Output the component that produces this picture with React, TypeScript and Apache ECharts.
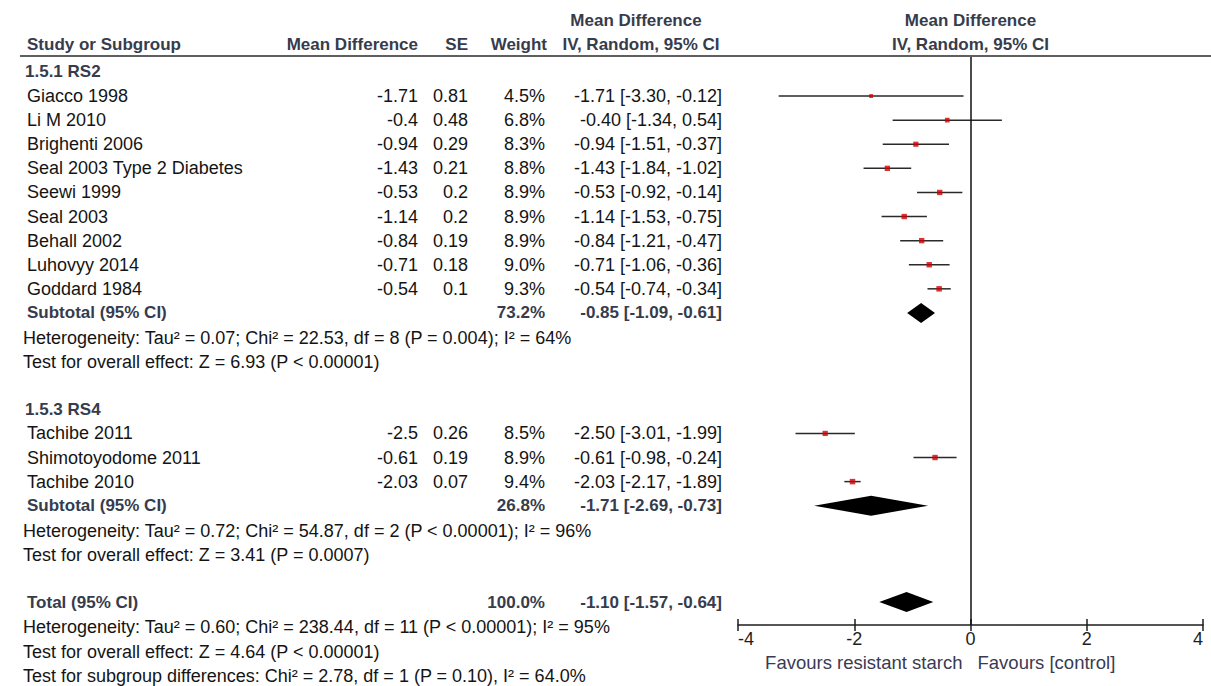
import React, { useEffect, useRef } from "react";
import * as echarts from "echarts";

// 1.5.1 RS2 studies
const rs2Studies = ["Giacco 1998", "Li M 2010", "Brighenti 2006", "Seal 2003 Type 2 Diabetes", "Seewi 1999", "Seal 2003", "Behall 2002", "Luhovyy 2014", "Goddard 1984"];
const rs2Md = [-1.71, -0.4, -0.94, -1.43, -0.53, -1.14, -0.84, -0.71, -0.54];
const rs2Se = [0.81, 0.48, 0.29, 0.21, 0.2, 0.2, 0.19, 0.18, 0.1];
const rs2Weight = [4.5, 6.8, 8.3, 8.8, 8.9, 8.9, 8.9, 9.0, 9.3];
const rs2Lower = [-3.3, -1.34, -1.51, -1.84, -0.92, -1.53, -1.21, -1.06, -0.74];
const rs2Upper = [-0.12, 0.54, -0.37, -1.02, -0.14, -0.75, -0.47, -0.36, -0.34];
const rs2Pooled = { md: -0.85, lower: -1.09, upper: -0.61, weight: 73.2 };
const rs2Heterogeneity = "Heterogeneity: Tau² = 0.07; Chi² = 22.53, df = 8 (P = 0.004); I² = 64%";
const rs2Effect = "Test for overall effect: Z = 6.93 (P < 0.00001)";

// 1.5.3 RS4 studies
const rs4Studies = ["Tachibe 2011", "Shimotoyodome 2011", "Tachibe 2010"];
const rs4Md = [-2.5, -0.61, -2.03];
const rs4Se = [0.26, 0.19, 0.07];
const rs4Weight = [8.5, 8.9, 9.4];
const rs4Lower = [-3.01, -0.98, -2.17];
const rs4Upper = [-1.99, -0.24, -1.89];
const rs4Pooled = { md: -1.71, lower: -2.69, upper: -0.73, weight: 26.8 };
const rs4Heterogeneity = "Heterogeneity: Tau² = 0.72; Chi² = 54.87, df = 2 (P < 0.00001); I² = 96%";
const rs4Effect = "Test for overall effect: Z = 3.41 (P = 0.0007)";

// Overall
const totalPooled = { md: -1.1, lower: -1.57, upper: -0.64, weight: 100.0 };
const totalHeterogeneity = "Heterogeneity: Tau² = 0.60; Chi² = 238.44, df = 11 (P < 0.00001); I² = 95%";
const totalEffect = "Test for overall effect: Z = 4.64 (P < 0.00001)";
const subgroupTest = "Test for subgroup differences: Chi² = 2.78, df = 1 (P = 0.10), I² = 64.0%";

const axisTicks = [-4, -2, 0, 2, 4];
const favoursLeft = "Favours resistant starch";
const favoursRight = "Favours [control]";

const FONT = '"Liberation Sans", Arial, sans-serif';
const TEXT = "#141414";
const BOLD = "#363c4c";

const fmt = (v: number) => v.toFixed(2);
const ciText = (md: number, lo: number, hi: number) => `${fmt(md)} [${fmt(lo)}, ${fmt(hi)}]`;

export default function App() {
  const ref = useRef<HTMLDivElement>(null);

  useEffect(() => {
    if (!ref.current) return;
    const chart = echarts.init(ref.current, undefined, { renderer: "svg" });

    // row layout (in row units on the hidden y axis)
    const rs2Start = 0;
    const rs2SubRow = rs2Start + rs2Studies.length;
    const rs4Section = rs2SubRow + 4;
    const rs4Start = rs4Section + 1;
    const rs4SubRow = rs4Start + rs4Studies.length;
    const totalRow = rs4SubRow + 4;

    const studyRows: [number, number, number, number, number][] = [];
    rs2Studies.forEach((_, i) => studyRows.push([rs2Lower[i], rs2Upper[i], rs2Start + i, rs2Md[i], rs2Weight[i]]));
    rs4Studies.forEach((_, i) => studyRows.push([rs4Lower[i], rs4Upper[i], rs4Start + i, rs4Md[i], rs4Weight[i]]));

    const diamonds = [
      [rs2Pooled.lower, rs2Pooled.md, rs2Pooled.upper, rs2SubRow],
      [rs4Pooled.lower, rs4Pooled.md, rs4Pooled.upper, rs4SubRow],
      [totalPooled.lower, totalPooled.md, totalPooled.upper, totalRow],
    ];

    const baseAxis = {
      type: "value" as const,
      min: -4,
      max: 4,
      interval: 2,
      position: "bottom" as const,
      splitLine: { show: false },
    };

    chart.setOption({
      animation: false,
      backgroundColor: "#ffffff",
      grid: { left: 738, right: 8, top: 57, bottom: 61, containLabel: false },
      xAxis: [
        {
          ...baseAxis,
          axisLine: { show: true, onZero: false, lineStyle: { color: "#1e1e1e", width: 1.5 } },
          axisTick: { show: true, length: 6, lineStyle: { color: "#1e1e1e", width: 1.5 } },
          axisLabel: {
            show: true,
            fontSize: 18,
            fontFamily: FONT,
            color: "#1e1e1e",
            margin: 5,
            alignMinLabel: "left",
            alignMaxLabel: "right",
            formatter: (v: number) => (axisTicks.includes(v) ? String(v) : ""),
          },
        },
        {
          ...baseAxis,
          axisLine: { show: false, onZero: false },
          axisTick: { show: true, inside: true, length: 6, lineStyle: { color: "#1e1e1e", width: 1.5 } },
          axisLabel: { show: false },
        },
      ],
      yAxis: { type: "value", min: -1.62, max: 21.95, inverse: true, show: false },
      series: [
        {
          type: "custom",
          name: "ci",
          xAxisIndex: 0,
          data: studyRows,
          renderItem: (_p: any, api: any) => {
            const a = api.coord([api.value(0), api.value(2)]);
            const b = api.coord([api.value(1), api.value(2)]);
            return {
              type: "line",
              shape: { x1: a[0], y1: a[1], x2: b[0], y2: b[1] },
              style: { stroke: "#2a2a2a", lineWidth: 1.5 },
            };
          },
        },
        {
          type: "scatter",
          name: "estimate",
          symbol: "rect",
          data: studyRows.map((r) => [r[3], r[2], r[4]]),
          symbolSize: (v: number[]) => 1.8 * Math.sqrt(v[2]),
          itemStyle: { color: "#d00000" },
          z: 5,
          markLine: {
            silent: true,
            symbol: ["none", "none"],
            label: { show: false },
            lineStyle: { color: "#111111", width: 1.5, type: "solid" },
            data: [{ xAxis: 0 }],
          },
        },
        {
          type: "custom",
          name: "pooled",
          data: diamonds,
          renderItem: (_p: any, api: any) => {
            const row = api.value(3);
            const l = api.coord([api.value(0), row]);
            const c = api.coord([api.value(1), row]);
            const r = api.coord([api.value(2), row]);
            const h = 10;
            return {
              type: "polygon",
              shape: { points: [[l[0], l[1]], [c[0], c[1] - h], [r[0], r[1]], [c[0], c[1] + h]] },
              style: { fill: "#000000" },
            };
          },
        },
      ],
    });

    const py = (row: number) => chart.convertToPixel({ gridIndex: 0 }, [0, row])[1];
    const px = (x: number) => chart.convertToPixel({ gridIndex: 0 }, [x, 0])[0];

    const g: any[] = [];
    const txt = (x: number, row: number, text: string, align = "left", bold = false, color = TEXT, size = 18) => {
      g.push({
        type: "text",
        x,
        y: py(row),
        style: {
          text,
          fontSize: bold ? 17 : size,
          fontWeight: bold ? "bold" : "normal",
          fontFamily: FONT,
          fill: bold ? BOLD : color,
          textAlign: align,
          textVerticalAlign: "middle",
        },
      });
    };

    // headers
    const h1 = -3.15;
    const h2 = -2.15;
    txt(27, h2, "Study or Subgroup", "left", true);
    txt(418, h2, "Mean Difference", "right", true);
    txt(468, h2, "SE", "right", true);
    txt(547, h2, "Weight", "right", true);
    txt(636, h1, "Mean Difference", "center", true);
    txt(641, h2, "IV, Random, 95% CI", "center", true);
    txt(px(0), h1, "Mean Difference", "center", true);
    txt(px(0), h2, "IV, Random, 95% CI", "center", true);
    g.push({
      type: "line",
      shape: { x1: 20, y1: 56, x2: 1211, y2: 56 },
      style: { stroke: "#2a2a2a", lineWidth: 1.5 },
    });

    const studyBlock = (names: string[], md: number[], se: number[], w: number[], lo: number[], hi: number[], start: number) => {
      names.forEach((n, i) => {
        const row = start + i;
        txt(27, row, n);
        txt(418, row, String(md[i]), "right");
        txt(468, row, String(se[i]), "right");
        txt(545, row, `${w[i].toFixed(1)}%`, "right");
        txt(722, row, ciText(md[i], lo[i], hi[i]), "right");
      });
    };

    const pooledRow = (label: string, p: { md: number; lower: number; upper: number; weight: number }, row: number) => {
      txt(27, row, label, "left", true);
      txt(545, row, `${p.weight.toFixed(1)}%`, "right", true);
      txt(722, row, ciText(p.md, p.lower, p.upper), "right", true);
    };

    txt(25, rs2Start - 1, "1.5.1 RS2", "left", true);
    studyBlock(rs2Studies, rs2Md, rs2Se, rs2Weight, rs2Lower, rs2Upper, rs2Start);
    pooledRow("Subtotal (95% CI)", rs2Pooled, rs2SubRow);
    txt(23, rs2SubRow + 1.05, rs2Heterogeneity);
    txt(23, rs2SubRow + 2.05, rs2Effect);

    txt(25, rs4Section, "1.5.3 RS4", "left", true);
    studyBlock(rs4Studies, rs4Md, rs4Se, rs4Weight, rs4Lower, rs4Upper, rs4Start);
    pooledRow("Subtotal (95% CI)", rs4Pooled, rs4SubRow);
    txt(23, rs4SubRow + 1.05, rs4Heterogeneity);
    txt(23, rs4SubRow + 2.05, rs4Effect);

    pooledRow("Total (95% CI)", totalPooled, totalRow);
    txt(23, totalRow + 1.05, totalHeterogeneity);
    txt(23, totalRow + 2.05, totalEffect);
    txt(23, totalRow + 3.05, subgroupTest);

    // direction labels under the axis
    const axisY = py(21.95);
    g.push(
      {
        type: "text",
        x: px(0) - 8,
        y: axisY + 37,
        style: { text: favoursLeft, fontSize: 18.5, fontFamily: FONT, fill: "#3a3a52", textAlign: "right", textVerticalAlign: "middle" },
      },
      {
        type: "text",
        x: px(0) + 7,
        y: axisY + 37,
        style: { text: favoursRight, fontSize: 18.5, fontFamily: FONT, fill: "#3a3a52", textAlign: "left", textVerticalAlign: "middle" },
      }
    );

    chart.setOption({ graphic: g });

    return () => chart.dispose();
  }, []);

  return (
    <div
      ref={ref}
      style={{ position: "fixed", left: 0, top: 0, width: 1211, height: 686, background: "#ffffff" }}
    />
  );
}
